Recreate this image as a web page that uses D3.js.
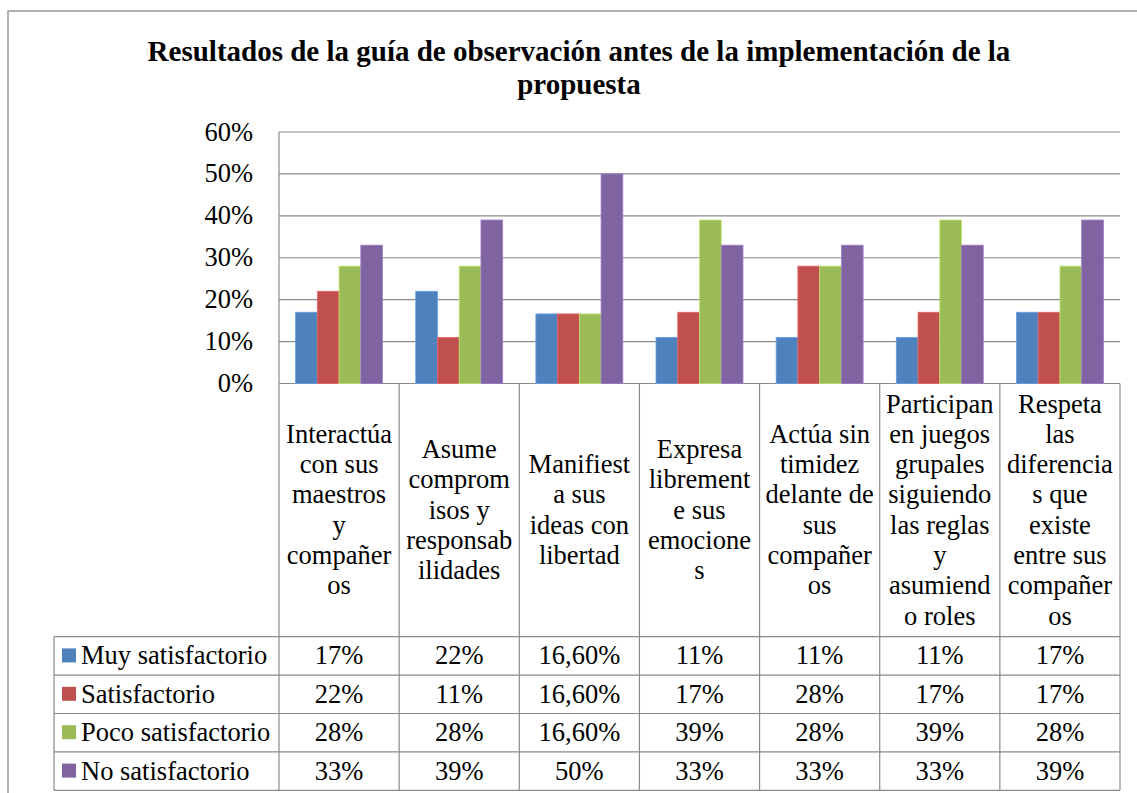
<!DOCTYPE html>
<html>
<head>
<meta charset="utf-8">
<script src="https://cdn.jsdelivr.net/npm/d3@7"></script>
</head>
<body style="margin:0">
<svg id="fig" width="1137" height="793"></svg>
<script>
// chart data
const title = ["Resultados de la guía de observación antes de la implementación de la", "propuesta"];
const categories = [
    ["Interactúa", "con sus", "maestros", "y", "compañer", "os"],
    ["Asume", "comprom", "isos y", "responsab", "ilidades"],
    ["Manifiest", "a sus", "ideas con", "libertad"],
    ["Expresa", "librement", "e sus", "emocione", "s"],
    ["Actúa sin", "timidez", "delante de", "sus", "compañer", "os"],
    ["Participan", "en juegos", "grupales", "siguiendo", "las reglas", "y", "asumiend", "o roles"],
    ["Respeta", "las", "diferencia", "s que", "existe", "entre sus", "compañer", "os"]
];
const seriesNames = ["Muy satisfactorio", "Satisfactorio", "Poco satisfactorio", "No satisfactorio"];
const muySatisfactorio = [17, 22, 16.6, 11, 11, 11, 17];
const satisfactorio = [22, 11, 16.6, 17, 28, 17, 17];
const pocoSatisfactorio = [28, 28, 16.6, 39, 28, 39, 28];
const noSatisfactorio = [33, 39, 50, 33, 33, 33, 39];
const seriesValues = [muySatisfactorio, satisfactorio, pocoSatisfactorio, noSatisfactorio];
const colors = ["#4F81BD", "#C0504D", "#9BBB59", "#8064A2"];
const yTicks = [0, 10, 20, 30, 40, 50, 60];

// layout
let plotLeft = 279, plotRight = 1120, plotTop = 132, plotBottom = 383.5;
let tableLeft = 54, rowTop = 636.7, rowH = 38.4;
let lineH = 30.3;
let gridColor = "#8a8a8a";
let fontSize = 26.5;
let titleSize = 29;
let serif = "Liberation Serif";

const svg = d3.select("#fig");

// outer chart border
svg.append("rect").attr("x", 8).attr("y", 11).attr("width", 1140).attr("height", 800)
    .attr("fill", "none").attr("stroke", "#999").attr("stroke-width", 1.5);

// title
svg.append("g").selectAll("text").data(title).join("text")
    .attr("font-family", serif)
    .attr("text-anchor", "middle")
    .attr("font-size", titleSize).attr("font-weight", "bold")
    .attr("x", 579).attr("y", (d, i) => 61 + i * 33)
    .text(d => d);

const x0 = d3.scaleBand().domain(d3.range(categories.length)).range([plotLeft, plotRight]);
const gap = 16.6;
const x1 = d3.scaleBand().domain(d3.range(seriesNames.length)).range([gap, x0.bandwidth() - gap]);
const y = d3.scaleLinear().domain([0, 60]).range([plotBottom, plotTop]);

// gridlines
svg.append("g").selectAll("line").data(yTicks).join("line")
    .attr("x1", plotLeft).attr("x2", plotRight)
    .attr("y1", d => y(d)).attr("y2", d => y(d))
    .attr("stroke", gridColor).attr("stroke-width", 1.2);

// y axis line
svg.append("line").attr("x1", plotLeft).attr("x2", plotLeft)
    .attr("y1", plotTop).attr("y2", plotBottom)
    .attr("stroke", gridColor).attr("stroke-width", 1.2);

// y tick labels
svg.append("g").selectAll("text").data(yTicks).join("text")
    .attr("font-family", serif)
    .attr("x", 253).attr("y", d => y(d) + 8.5)
    .attr("text-anchor", "end").attr("font-size", fontSize)
    .text(d => d + "%");

// bars
const groups = svg.append("g").selectAll("g").data(categories).join("g")
    .attr("transform", (d, i) => `translate(${x0(i)},0)`);
groups.selectAll("rect").data((d, i) => seriesValues.map((s, j) => ({j: j, v: s[i]}))).join("rect")
    .attr("x", d => x1(d.j))
    .attr("y", d => y(d.v))
    .attr("width", x1.bandwidth())
    .attr("height", d => plotBottom - y(d.v))
    .attr("fill", d => colors[d.j])
    .attr("stroke", d => d3.color(colors[d.j]).brighter(0.6))
    .attr("stroke-width", 0.8);

// data table borders
let tableBottom = rowTop + rowH * seriesNames.length;
let border = svg.append("g").attr("stroke", gridColor).attr("stroke-width", 1.2);
d3.range(categories.length + 1).forEach(i => {
    let xx = i < categories.length ? x0(i) : plotRight;
    border.append("line").attr("x1", xx).attr("x2", xx).attr("y1", plotBottom).attr("y2", tableBottom);
});
border.append("line").attr("x1", tableLeft).attr("x2", tableLeft).attr("y1", rowTop).attr("y2", tableBottom);
d3.range(seriesNames.length + 1).forEach(r => {
    let yy = rowTop + r * rowH;
    border.append("line").attr("x1", tableLeft).attr("x2", plotRight).attr("y1", yy).attr("y2", yy);
});

// category headers, one text per line
let headerCenter = (plotBottom + rowTop) / 2;
categories.forEach((lines, i) => {
    let cx = x0(i) + x0.bandwidth() / 2;
    let start = headerCenter - (lines.length - 1) / 2 * lineH + 8.5;
    svg.append("g").selectAll("text").data(lines).join("text")
        .attr("font-family", serif)
        .attr("text-anchor", "middle").attr("font-size", fontSize)
        .attr("x", cx).attr("y", (d, k) => start + k * lineH)
        .text(d => d);
});

// table rows
function fmt(v) {
    return Number.isInteger(v) ? v + "%" : v.toFixed(2).replace(".", ",") + "%";
}
seriesNames.forEach((name, r) => {
    let cy = rowTop + r * rowH + rowH / 2;
    svg.append("rect").attr("x", 62).attr("y", cy - 7.5).attr("width", 14).attr("height", 14)
        .attr("fill", colors[r]);
    svg.append("text").attr("font-family", serif)
        .attr("x", 81).attr("y", cy + 8.5).attr("font-size", fontSize).text(name);
    svg.append("g").selectAll("text").data(seriesValues[r]).join("text")
        .attr("font-family", serif)
        .attr("x", (d, i) => x0(i) + x0.bandwidth() / 2)
        .attr("y", cy + 8.5)
        .attr("text-anchor", "middle").attr("font-size", fontSize)
        .text(d => fmt(d));
});
</script>
</body>
</html>
